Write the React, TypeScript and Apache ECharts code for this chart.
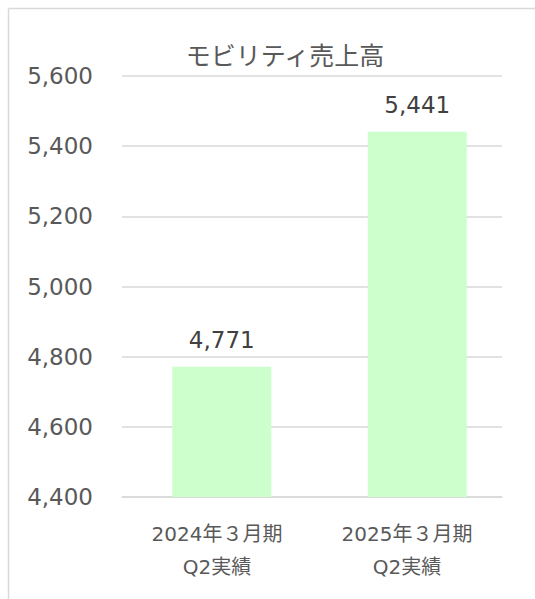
import React, { useEffect, useRef } from "react";
import * as echarts from "echarts";

const categories = ["2024年３月期\nQ2実績", "2025年３月期\nQ2実績"];
const sales = [4771, 5441];
const yMin = 4400;
const yMax = 5600;
const yStep = 200;
const titleText = "モビリティ売上高";

const fmt = (v: number) => v.toLocaleString("en-US");

export default function App() {
  const ref = useRef<HTMLDivElement>(null);
  useEffect(() => {
    if (!ref.current) return;
    const chart = echarts.init(ref.current, null, { renderer: "svg" });
    const numFont = "'DejaVu Sans', 'Noto Sans CJK JP', sans-serif";
    chart.setOption({
      animation: false,
      backgroundColor: "#ffffff",
      graphic: [
        {
          type: "line",
          shape: { x1: 8.5, y1: 8.5, x2: 535, y2: 8.5 },
          style: { stroke: "#d9d9d9", lineWidth: 1.5 },
          silent: true,
        },
        {
          type: "line",
          shape: { x1: 8.5, y1: 8.5, x2: 8.5, y2: 599 },
          style: { stroke: "#d9d9d9", lineWidth: 1.5 },
          silent: true,
        },
        {
          type: "text",
          x: 285,
          y: 54,
          style: {
            text: titleText,
            fill: "#595959",
            font: "25px 'Noto Sans CJK JP', sans-serif",
            textAlign: "center",
            textVerticalAlign: "middle",
          },
        },
      ],
      grid: [
        { left: 122, right: 33, top: 76, bottom: 102 },
        { left: 124, width: 391, top: 76, bottom: 102 },
      ],
      xAxis: [
        {
          type: "category",
          gridIndex: 0,
          data: categories,
          axisLine: { show: true, lineStyle: { color: "#d9d9d9", width: 1.5 } },
          axisTick: { show: false },
          axisLabel: {
            color: "#595959",
            fontSize: 20,
            lineHeight: 33,
            margin: 20,
            fontFamily: numFont,
          },
        },
        {
          type: "category",
          gridIndex: 1,
          data: categories,
          show: false,
        },
      ],
      yAxis: [
        {
          type: "value",
          gridIndex: 0,
          min: yMin,
          max: yMax,
          interval: yStep,
          axisLine: { show: false },
          axisTick: { show: false },
          splitLine: { lineStyle: { color: "#d9d9d9", width: 1.5 } },
          axisLabel: {
            color: "#595959",
            fontSize: 23,
            margin: 29,
            fontFamily: numFont,
            formatter: (v: number) => fmt(v),
          },
        },
        {
          type: "value",
          gridIndex: 1,
          min: yMin,
          max: yMax,
          show: false,
        },
      ],
      series: [
        {
          type: "bar",
          xAxisIndex: 1,
          yAxisIndex: 1,
          data: sales,
          barWidth: 99,
          itemStyle: { color: "#ccffcc" },
          label: {
            show: true,
            position: "top",
            distance: 15,
            color: "#404040",
            fontSize: 23,
            fontFamily: numFont,
            formatter: (p: any) => fmt(p.value),
          },
        },
      ],
    });
    return () => chart.dispose();
  }, []);
  return (
    <div
      ref={ref}
      style={{ position: "absolute", left: 0, top: 0, width: 535, height: 599 }}
    />
  );
}
